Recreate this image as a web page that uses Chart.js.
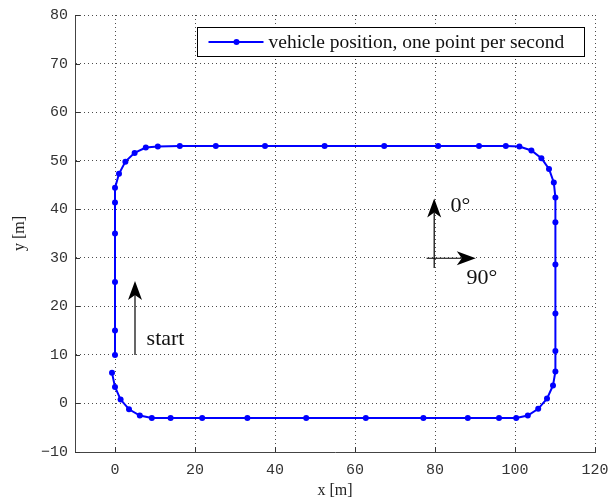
<!DOCTYPE html>
<html>
<head>
<meta charset="utf-8">
<script src="https://cdn.jsdelivr.net/npm/chart.js@4.4.0/dist/chart.umd.min.js"></script>
<style>
  html, body { margin: 0; padding: 0; background: #fff; }
  #wrap { width: 610px; height: 504px; }
</style>
</head>
<body>
<div id="wrap"><canvas id="trackChart"></canvas></div>
<script>
// vehicle track, one sample per second
var PATH_X = [0, 0, 0, 0, 0, 0, 1.0, 2.6, 4.9, 7.7, 10.7, 16.2, 25.2, 37.5, 52.4, 67.3, 80.8, 91.0, 97.7,
  101.1, 104.1, 106.6, 108.5, 109.7, 110.1, 110.1, 110.1, 110.1, 110.1, 110.1, 109.5, 108.0, 105.8, 103.2,
  100.3, 96.0, 88.2, 77.1, 62.7, 47.8, 33.1, 21.8, 13.9, 9.2, 6.2, 3.5, 1.4, 0, -0.75];
var PATH_Y = [10, 15, 25, 35, 41.4, 44.4, 47.3, 49.8, 51.6, 52.7, 52.9, 53, 53, 53, 53, 53, 53, 53, 53,
  52.9, 52.1, 50.5, 48.3, 45.5, 42.4, 37.3, 28.6, 18.5, 10.8, 6.6, 3.7, 1.0, -1.1, -2.5,
  -3.0, -3.0, -3, -3, -3, -3, -3, -3, -3, -3.0, -2.5, -1.2, 0.8, 3.4, 6.3];

var X_TICKS = [0, 20, 40, 60, 80, 100, 120];
var Y_TICKS = [-10, 0, 10, 20, 30, 40, 50, 60, 70, 80];

// arrows in data units: [x0, y0, x1, y1], head at the second point
var START_ARROW = [5, 10, 5, 25.2];
var NORTH_ARROW = [79.8, 27.9, 79.8, 42.2];
var EAST_ARROW = [77.9, 29.9, 90.2, 29.9];

var NOTE_TEXT = ['start', '0°', '90°'];
var NOTE_X = [7.9, 83.9, 87.9];
var NOTE_Y = [13.2, 40.6, 25.7];

var SERIES_LABEL = 'vehicle position, one point per second';
var BLUE = '#0000ff';

function minus(v) { return String(v).replace('-', '\u2212'); }

/* inward tick marks, matlab style */
var innerTicks = {
  id: 'innerTicks',
  afterDraw: function (chart) {
    var ctx = chart.ctx, a = chart.chartArea;
    var xs = chart.scales.x, ys = chart.scales.y;
    ctx.save();
    ctx.strokeStyle = '#333';
    ctx.lineWidth = 1;
    ctx.beginPath();
    X_TICKS.forEach(function (v) {
      var px = Math.round(xs.getPixelForValue(v)) + 0.5;
      ctx.moveTo(px, a.bottom); ctx.lineTo(px, a.bottom - 5);
    });
    Y_TICKS.forEach(function (v) {
      var py = Math.round(ys.getPixelForValue(v)) + 0.5;
      ctx.moveTo(a.left, py); ctx.lineTo(a.left + 5, py);
    });
    ctx.stroke();
    ctx.restore();
  }
};

function drawArrow(ctx, xs, ys, arr) {
  var x0 = xs.getPixelForValue(arr[0]), y0 = ys.getPixelForValue(arr[1]);
  var x1 = xs.getPixelForValue(arr[2]), y1 = ys.getPixelForValue(arr[3]);
  var ang = Math.atan2(y1 - y0, x1 - x0);
  var L = 19, W = 7, N = 14;
  var c = Math.cos(ang), s = Math.sin(ang);
  ctx.beginPath();
  ctx.moveTo(x0, y0);
  ctx.lineTo(x1 - c * N, y1 - s * N);
  ctx.stroke();
  ctx.beginPath();
  ctx.moveTo(x1, y1);
  ctx.lineTo(x1 - c * L - s * W, y1 - s * L + c * W);
  ctx.lineTo(x1 - c * N, y1 - s * N);
  ctx.lineTo(x1 - c * L + s * W, y1 - s * L - c * W);
  ctx.closePath();
  ctx.fill();
}

/* arrows, notes and the boxed legend */
var annotations = {
  id: 'annotations',
  afterDatasetsDraw: function (chart) {
    var ctx = chart.ctx, a = chart.chartArea;
    var xs = chart.scales.x, ys = chart.scales.y;
    ctx.save();
    ctx.strokeStyle = '#000';
    ctx.fillStyle = '#000';
    ctx.lineWidth = 1.2;
    [START_ARROW, NORTH_ARROW, EAST_ARROW].forEach(function (arr) { drawArrow(ctx, xs, ys, arr); });

    ctx.font = '22px "Liberation Serif"';
    ctx.textAlign = 'left';
    ctx.textBaseline = 'middle';
    ctx.fillStyle = '#111';
    NOTE_TEXT.forEach(function (t, i) {
      ctx.fillText(t, xs.getPixelForValue(NOTE_X[i]), ys.getPixelForValue(NOTE_Y[i]));
    });

    // legend box, top right inside the plot
    var bx = a.right - 397.5, by = a.top + 12.5, bw = 387, bh = 29;
    ctx.fillStyle = '#fff';
    ctx.fillRect(bx, by, bw, bh);
    ctx.strokeStyle = '#000';
    ctx.lineWidth = 1;
    ctx.strokeRect(bx, by, bw, bh);
    var ly = by + bh / 2;
    ctx.strokeStyle = BLUE;
    ctx.lineWidth = 2;
    ctx.beginPath();
    ctx.moveTo(bx + 11, ly); ctx.lineTo(bx + 66, ly);
    ctx.stroke();
    ctx.fillStyle = BLUE;
    ctx.beginPath();
    ctx.arc(bx + 39, ly, 3, 0, Math.PI * 2);
    ctx.fill();
    ctx.fillStyle = '#111';
    ctx.font = '19.5px "Liberation Serif"';
    ctx.fillText(SERIES_LABEL, bx + 71, ly + 1);
    ctx.restore();
  }
};

var tickFont = { family: '"Liberation Mono", monospace', size: 15 };
var titleFont = { family: '"Liberation Serif", serif', size: 16 };

new Chart(document.getElementById('trackChart').getContext('2d'), {
  type: 'scatter',
  data: {
    datasets: [{
      label: SERIES_LABEL,
      data: PATH_X.map(function (x, i) { return { x: x, y: PATH_Y[i] }; }),
      showLine: true,
      borderColor: BLUE,
      backgroundColor: BLUE,
      borderWidth: 2,
      pointRadius: 3,
      pointBorderWidth: 0,
      pointBackgroundColor: BLUE,
      tension: 0
    }]
  },
  options: {
    responsive: true,
    maintainAspectRatio: false,
    devicePixelRatio: 1,
    animation: false,
    layout: { padding: { left: 0, right: 15, top: 15, bottom: 0 } },
    plugins: { legend: { display: false }, tooltip: { enabled: false } },
    scales: {
      x: {
        type: 'linear',
        min: -10,
        max: 120,
        afterBuildTicks: function (s) { s.ticks = X_TICKS.map(function (v) { return { value: v }; }); },
        afterFit: function (s) { s.height = 52; s.paddingLeft = 0; s.paddingRight = 0; },
        grid: { color: 'rgba(0,0,0,0.7)', lineWidth: 1, drawTicks: false },
        border: { display: true, color: '#444', width: 1, dash: [1, 3] },
        ticks: { font: tickFont, color: '#333', padding: 9, maxRotation: 0, autoSkip: false },
        title: { display: true, text: 'x [m]', font: titleFont, color: '#222', padding: { top: 0, bottom: 4 } }
      },
      y: {
        type: 'linear',
        min: -10,
        max: 80,
        afterBuildTicks: function (s) { s.ticks = Y_TICKS.map(function (v) { return { value: v }; }); },
        afterFit: function (s) { s.width = 75; s.paddingTop = 0; s.paddingBottom = 0; },
        grid: { color: 'rgba(0,0,0,0.7)', lineWidth: 1, drawTicks: false },
        border: { display: true, color: '#444', width: 1, dash: [1, 3] },
        ticks: { font: tickFont, color: '#333', padding: 7, autoSkip: false, callback: minus },
        title: { display: true, text: 'y [m]', font: titleFont, color: '#222', padding: { top: 10, bottom: 0 } }
      }
    }
  },
  plugins: [innerTicks, annotations]
});
</script>
</body>
</html>
